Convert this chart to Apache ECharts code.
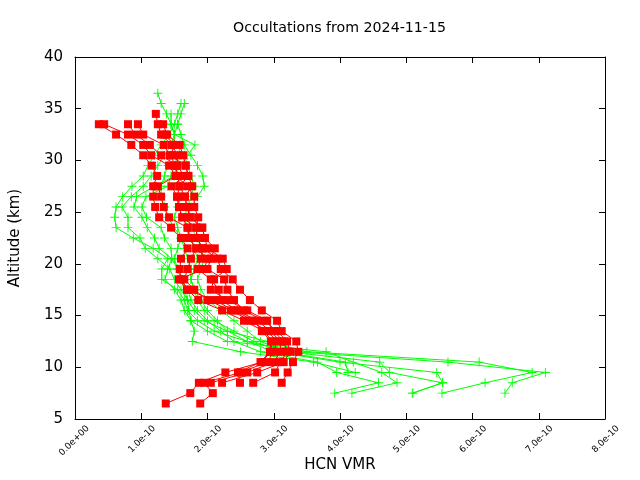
<!DOCTYPE html>
<html>
<head>
<meta charset="utf-8">
<script src="https://cdn.jsdelivr.net/npm/echarts@6/dist/echarts.min.js"></script>
<style>html,body{margin:0;padding:0;background:#fff;}#chart{width:640px;height:480px;}</style>
</head>
<body>
<div id="chart"></div>
<script>
// Altitude grid (km), index 0 = top
const altGrid = [36.5,35.5,34.5,33.5,32.5,31.5,30.5,29.5,28.5,27.5,26.5,25.5,24.5,23.5,22.5,21.5,20.5,19.5,18.5,17.5,16.5,15.5,14.5,13.5,12.5,11.5,10.5,9.5,8.5,7.5,6.5];
const xTicks = [0,1,2,3,4,5,6,7,8]; // in units of 1e-10
const yTicks = [5,10,15,20,25,30,35,40];

// HCN VMR profiles, units of 1e-10 (null = no data at that level)
const green1 = [1.25,1.30,1.38,1.45,1.50,1.50,1.45,1.40,1.35,1.30,1.30,1.35,1.40,1.50,1.60,1.65,1.70,1.75,1.75,1.80,1.90,2.00,2.15,2.30,2.60,3.00,4.00,5.46,5.55,5.09,null];
const green2 = [null,1.60,1.55,1.50,1.42,1.30,1.20,1.10,1.03,0.86,0.72,0.62,0.60,0.62,0.88,1.18,1.40,1.31,1.31,1.55,1.65,1.70,1.85,2.10,2.60,3.30,5.63,7.10,6.60,6.49,null];
const green3 = [null,1.65,1.60,1.55,1.50,1.45,1.35,1.25,1.15,1.03,0.85,0.71,0.80,0.80,0.98,1.06,1.25,1.43,1.50,1.60,1.70,1.80,1.95,2.30,2.90,3.50,6.10,6.90,6.19,5.54,null];
const green4 = [null,null,1.45,1.45,1.50,1.81,1.70,1.60,1.50,1.20,0.93,0.89,1.01,1.09,1.20,1.27,1.46,1.55,1.60,1.70,1.75,1.85,2.00,2.20,2.40,2.80,3.66,3.95,4.58,3.92,null];
const green5 = [null,null,null,1.55,1.60,1.65,1.75,1.85,1.93,1.95,1.85,1.75,1.70,1.75,1.85,1.90,1.95,1.90,1.85,1.90,2.00,2.20,2.40,2.60,2.80,3.20,4.60,4.75,5.55,5.10,null];
const green6 = [null,null,null,null,null,1.60,1.55,1.50,1.45,1.40,1.07,1.01,1.08,1.30,1.35,1.45,1.46,1.40,1.36,1.50,1.60,1.65,1.75,2.00,2.30,3.79,4.20,4.63,4.86,4.18,null];
const green7 = [null,null,null,null,null,null,1.65,1.70,1.75,1.80,1.75,1.70,1.65,1.70,1.75,1.80,1.85,1.80,1.75,1.80,1.85,1.95,2.10,2.40,2.70,3.10,4.08,4.12,null,null,null];
const green8 = [null,null,null,null,null,null,null,null,null,null,1.60,1.55,1.50,1.55,1.60,1.55,1.50,1.55,1.60,1.65,1.70,1.72,1.75,1.80,1.77,2.50,3.60,4.23,null,null,null];

const red1 = [null,null,null,0.36,0.62,0.85,1.03,1.16,1.24,1.18,1.18,1.21,1.27,1.45,1.60,1.70,1.60,1.58,1.60,1.70,1.86,2.22,2.55,2.85,2.98,2.95,2.82,2.27,1.87,1.74,1.37];
const red2 = [null,null,null,0.44,0.80,1.03,1.15,1.42,1.52,1.25,1.30,1.34,1.42,1.70,1.72,1.83,1.75,1.70,1.65,1.80,2.00,2.35,2.65,2.90,3.05,3.00,2.90,2.50,1.95,2.08,1.89];
const red3 = [null,null,null,0.80,0.92,1.13,1.30,1.54,1.65,1.46,1.54,1.57,1.62,1.83,1.84,1.93,1.90,1.85,2.05,2.17,2.20,2.45,2.75,2.95,3.10,3.10,3.00,2.60,2.05,null,null];
const red4 = [null,null,null,0.95,1.03,1.34,1.43,1.67,1.71,1.58,1.66,1.69,1.74,1.92,1.96,2.11,2.05,2.00,2.25,2.30,2.40,2.55,2.85,3.05,3.20,3.25,3.15,2.75,2.22,null,null];
const red5 = [null,null,1.22,1.25,1.30,1.46,1.55,1.54,1.52,1.70,1.80,1.80,1.86,1.83,1.84,1.93,2.15,2.20,2.38,2.49,2.64,2.82,3.05,3.12,3.34,3.37,3.29,3.21,3.12,null,null];
const red6 = [null,null,null,1.33,1.39,1.58,1.63,1.67,1.71,1.77,1.66,1.69,1.74,1.92,1.96,2.00,2.23,2.29,2.10,2.05,2.30,2.60,2.90,3.00,3.15,3.20,3.10,3.02,2.69,null,null];
const red7 = [null,null,null,null,1.35,1.50,1.45,1.50,1.55,1.58,1.54,1.57,1.62,1.70,1.72,1.83,2.00,1.95,1.57,1.69,2.10,2.40,2.70,2.82,2.96,2.94,2.80,2.46,2.49,null,null];

const greens = [green1,green2,green3,green4,green5,green6,green7,green8];
const reds = [red1,red2,red3,red4,red5,red6,red7];

const FONT = 'DejaVu Sans';
const PLUS = 'path://M4.5,0H5.5V4.5H10V5.5H5.5V10H4.5V5.5H0V4.5H4.5Z';

function toPairs(arr){
  const out = [];
  arr.forEach((v,i)=>{ if(v!==null) out.push([v, altGrid[i]]); });
  return out;
}

const series = [];
greens.forEach((g,i)=>{
  series.push({type:'line', name:'g'+i, data:toPairs(g), symbol:PLUS, symbolSize:9, showAllSymbol:true,
    itemStyle:{color:'#00ff00'}, lineStyle:{color:'#00ff00', width:1}, animation:false, z:2});
});
reds.forEach((r,i)=>{
  series.push({type:'line', name:'r'+i, data:toPairs(r), symbol:'rect', symbolSize:8, showAllSymbol:true,
    itemStyle:{color:'#ff0000'}, lineStyle:{color:'#ff0000', width:1}, animation:false, z:3});
});

const axisLineStyle = {show:true, onZero:false, lineStyle:{color:'#000', width:1}};
const tickStyle = {show:true, inside:true, length:6, lineStyle:{color:'#000'}};

const chart = echarts.init(document.getElementById('chart'), null, {renderer:'canvas'});
chart.setOption({
  animation:false,
  backgroundColor:'#ffffff',
  title:{text:'Occultations from 2024-11-15', left:228, top:16,
    textStyle:{fontFamily:FONT, fontSize:14.2, fontWeight:'normal', color:'#000'}},
  grid:[
    {left:75, right:35, top:57, bottom:61, containLabel:false, outerBoundsMode:'none', show:false},
    {left:88, right:22, top:57, bottom:61, containLabel:false, outerBoundsMode:'none', show:false}
  ],
  xAxis:[{
    gridIndex:0, type:'value', min:xTicks[0], max:xTicks[xTicks.length-1], interval:1, position:'bottom',
    axisLine:axisLineStyle, axisTick:tickStyle, splitLine:{show:false},
    axisLabel:{show:false},
    name:'HCN VMR', nameLocation:'middle', nameGap:39,
    nameTextStyle:{fontFamily:FONT, fontSize:15, color:'#000'}
  },{
    gridIndex:0, type:'value', min:xTicks[0], max:xTicks[xTicks.length-1], interval:1, position:'top',
    axisLine:axisLineStyle, axisTick:tickStyle, axisLabel:{show:false}, splitLine:{show:false}
  },{
    gridIndex:1, type:'value', min:xTicks[0], max:xTicks[xTicks.length-1], interval:1, position:'bottom',
    axisLine:{show:false}, axisTick:{show:false}, splitLine:{show:false},
    axisLabel:{rotate:45, fontFamily:FONT, fontSize:9, color:'#000', margin:8, showMinLabel:true, showMaxLabel:true,
      formatter:v=> v===0 ? '0.0e+00' : v.toFixed(1)+'e-10'}
  }],
  yAxis:[{
    gridIndex:0, type:'value', min:yTicks[0], max:yTicks[yTicks.length-1], interval:5, position:'left',
    axisLine:axisLineStyle, axisTick:tickStyle, splitLine:{show:false},
    axisLabel:{fontFamily:FONT, fontSize:15, color:'#000', margin:12},
    name:'Altitude (km)', nameLocation:'middle', nameGap:52, nameRotate:90,
    nameTextStyle:{fontFamily:FONT, fontSize:15, color:'#000'}
  },{
    gridIndex:0, type:'value', min:yTicks[0], max:yTicks[yTicks.length-1], interval:5, position:'right',
    axisLine:axisLineStyle, axisTick:tickStyle, axisLabel:{show:false}, splitLine:{show:false}
  },{
    gridIndex:1, type:'value', min:yTicks[0], max:yTicks[yTicks.length-1], show:false
  }],
  series: series
});
</script>
</body>
</html>
